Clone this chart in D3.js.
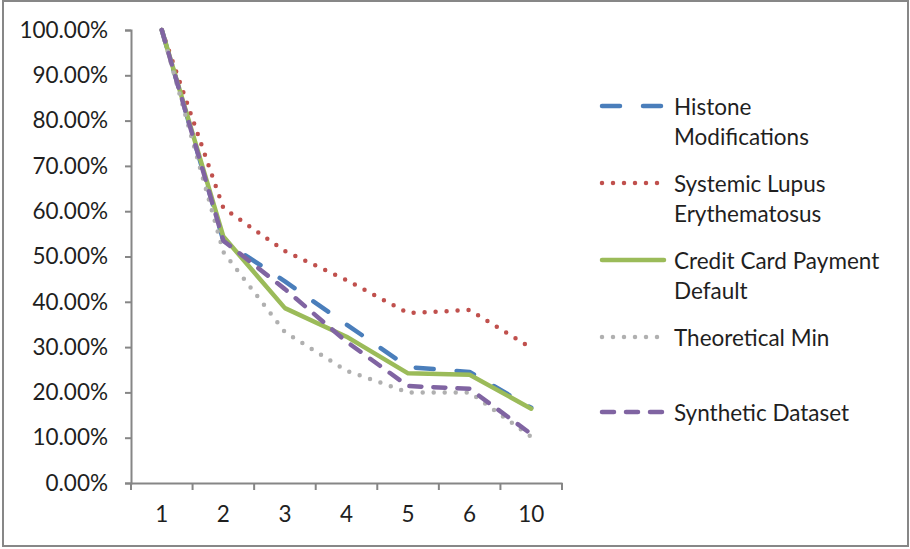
<!DOCTYPE html>
<html>
<head>
<meta charset="utf-8">
<script src="https://cdn.jsdelivr.net/npm/d3@7/dist/d3.min.js"></script>
<style>
  html, body { margin: 0; padding: 0; background: #fff; }
  svg { display: block; }
  text { font-family: Lato, "Open Sans", sans-serif; fill: #1f1f1f; }
</style>
</head>
<body>
<svg id="chart" width="910" height="549"></svg>
<script>
// Categories along the x axis
const categories = ["1", "2", "3", "4", "5", "6", "10"];

// Series values (fractions)
const histone     = [1.00, 0.535, 0.445, 0.350, 0.256, 0.245, 0.166];
const lupus       = [1.00, 0.607, 0.512, 0.448, 0.375, 0.382, 0.298];
const creditCard  = [1.00, 0.544, 0.386, 0.323, 0.242, 0.239, 0.164];
const theoretical = [1.00, 0.510, 0.333, 0.248, 0.200, 0.200, 0.102];
const synthetic   = [1.00, 0.535, 0.428, 0.312, 0.214, 0.208, 0.108];

// Y tick values
const yTicks = [0, 0.1, 0.2, 0.3, 0.4, 0.5, 0.6, 0.7, 0.8, 0.9, 1.0];

const seriesNames = [
  ["Histone", "Modifications"],
  ["Systemic Lupus", "Erythematosus"],
  ["Credit Card Payment", "Default"],
  ["Theoretical Min"],
  ["Synthetic Dataset"]
];

const series = [
  { name: seriesNames[0], values: histone,     color: "#4a7ebb", width: 4.5, dash: "18,23", cap: "round" },
  { name: seriesNames[1], values: lupus,       color: "#c0504d", width: 4.5, dash: "0,11",  cap: "round" },
  { name: seriesNames[2], values: creditCard,  color: "#9bbb59", width: 4.5, dash: null,    cap: "round" },
  { name: seriesNames[3], values: theoretical, color: "#b0b0b0", width: 4.5, dash: "0,11",  cap: "round" },
  { name: seriesNames[4], values: synthetic,   color: "#8064a2", width: 4.5, dash: "12,12", cap: "round" }
];

const fontSize = 22.5;
const svg = d3.select("#chart");

// outer chart border
svg.append("rect")
  .attr("x", 3).attr("y", 1).attr("width", 905).attr("height", 545)
  .attr("fill", "#fff").attr("stroke", "#878787").attr("stroke-width", 2);

const plotLeft = 131, plotRight = 562, plotTop = 30, plotBottom = 483;

const x = d3.scaleBand().domain(categories).range([plotLeft, plotRight]).padding(0);
const y = d3.scaleLinear().domain([0, 1]).range([plotBottom, plotTop]);

const axisColor = "#868686";

// Y axis
const yAxis = svg.append("g")
  .attr("transform", `translate(${plotLeft},0)`)
  .call(d3.axisLeft(y).tickValues(yTicks).tickFormat(d3.format(".2%")).tickSize(6).tickPadding(17));
yAxis.select(".domain").attr("stroke", axisColor).attr("stroke-width", 2);
yAxis.selectAll(".tick line").attr("stroke", axisColor).attr("stroke-width", 2);
yAxis.selectAll(".tick text")
  .attr("font-size", fontSize).attr("font-family", "Lato, sans-serif").attr("fill", "#1f1f1f");

// X axis: labels at band centres, tick marks at band edges
const xAxis = svg.append("g")
  .attr("transform", `translate(0,${plotBottom})`)
  .call(d3.axisBottom(x).tickSize(0).tickPadding(23));
xAxis.select(".domain").attr("stroke", axisColor).attr("stroke-width", 2);
xAxis.selectAll(".tick text")
  .attr("font-size", fontSize).attr("font-family", "Lato, sans-serif").attr("fill", "#1f1f1f");

const edges = categories.map(c => x(c)).concat([x(categories[categories.length - 1]) + x.bandwidth()]);
svg.append("g").selectAll("line").data(edges).join("line")
  .attr("x1", d => d).attr("x2", d => d)
  .attr("y1", plotBottom).attr("y2", plotBottom + 7)
  .attr("stroke", axisColor).attr("stroke-width", 2);

// Lines
const line = d3.line()
  .x((d, i) => x(categories[i]) + x.bandwidth() / 2)
  .y(d => y(d));

const plot = svg.append("g");
series.forEach(s => {
  plot.append("path")
    .datum(s.values)
    .attr("d", line)
    .attr("fill", "none")
    .attr("stroke", s.color)
    .attr("stroke-width", s.width)
    .attr("stroke-linecap", s.cap)
    .attr("stroke-linejoin", "round")
    .attr("stroke-dasharray", s.dash);
});

// Legend
const legendRows = [106, 183, 260, 337, 412];
const legend = svg.append("g");
series.forEach((s, i) => {
  const cy = legendRows[i];
  legend.append("line")
    .attr("x1", 602).attr("x2", 664)
    .attr("y1", cy).attr("y2", cy)
    .attr("stroke", s.color)
    .attr("stroke-width", s.width)
    .attr("stroke-linecap", s.cap)
    .attr("stroke-dasharray", s.dash);
  const t = legend.append("text")
    .attr("x", 674).attr("y", cy)
    .attr("font-size", fontSize)
    .attr("dominant-baseline", "central");
  s.name.forEach((ln, j) => {
    t.append("tspan").attr("x", 674).attr("dy", j === 0 ? 0 : 30).text(ln);
  });
});
</script>
</body>
</html>
